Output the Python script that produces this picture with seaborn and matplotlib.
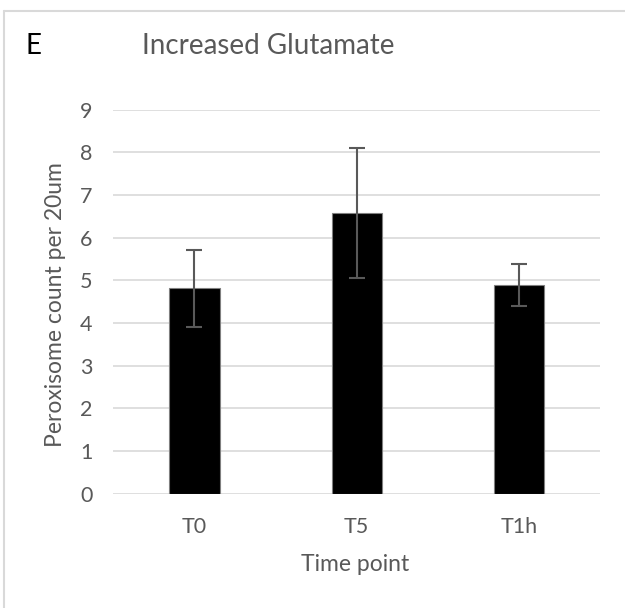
import matplotlib
matplotlib.use('Agg')
import matplotlib.pyplot as plt
import matplotlib.lines as mlines
import pandas as pd
import seaborn as sns

# Daten
time_points = ['T0', 'T5', 'T1h']
counts = [4.81, 6.57, 4.88]
errors = [0.91, 1.52, 0.49]
y_ticks = [0, 1, 2, 3, 4, 5, 6, 7, 8, 9]

df = pd.DataFrame({'time': time_points, 'count': counts})

sns.set_style('white')
plt.rcParams['font.family'] = ['Lato', 'DejaVu Sans']
text_col = '#595959'
grid_col = '#D9D9D9'

fig = plt.figure(figsize=(6.25, 6.08), dpi=100)
ax = fig.add_axes([0.1813, 0.1883, 0.7787, 0.6314])

sns.barplot(x='time', y='count', data=df, color='black', width=0.31,
            edgecolor='#7F7F7F', linewidth=0.8, errorbar=None, ax=ax, zorder=3)
ax.errorbar(range(len(time_points)), counts, yerr=errors, fmt='none',
            ecolor=text_col, elinewidth=1.5, capsize=6, capthick=1.5, zorder=4)

ax.set_ylim(0, 9)
ax.set_xlim(-0.5, 2.5)
ax.set_yticks(y_ticks)
ax.yaxis.grid(True, color=grid_col, linewidth=1.2, zorder=0)
ax.set_axisbelow(True)
for s in ax.spines.values():
    s.set_visible(False)
ax.tick_params(axis='both', length=0, colors=text_col, labelsize=15.5)
ax.tick_params(axis='y', pad=15)
ax.tick_params(axis='x', pad=17)

ax.set_xlabel('Time point', color=text_col, fontsize=16.5, va='center')
ax.set_ylabel('Peroxisome count per 20um', color=text_col, fontsize=16.5, va='center')
ax.xaxis.set_label_coords(0.497, -0.186)
ax.yaxis.set_label_coords(-0.118, 0.492)

fig.text(0.429, 0.925, 'Increased Glutamate', color=text_col, fontsize=20,
         ha='center', va='center')
fig.text(0.04, 0.925, 'E', color='black', fontsize=20, ha='left', va='center')

# Rahmen (nur oben und links sichtbar)
fig.add_artist(mlines.Line2D([0.007, 1.0], [0.982, 0.982], color=grid_col, linewidth=1.5))
fig.add_artist(mlines.Line2D([0.007, 0.007], [0.0, 0.982], color=grid_col, linewidth=1.5))

plt.savefig('out.png', dpi=100)
plt.close()
